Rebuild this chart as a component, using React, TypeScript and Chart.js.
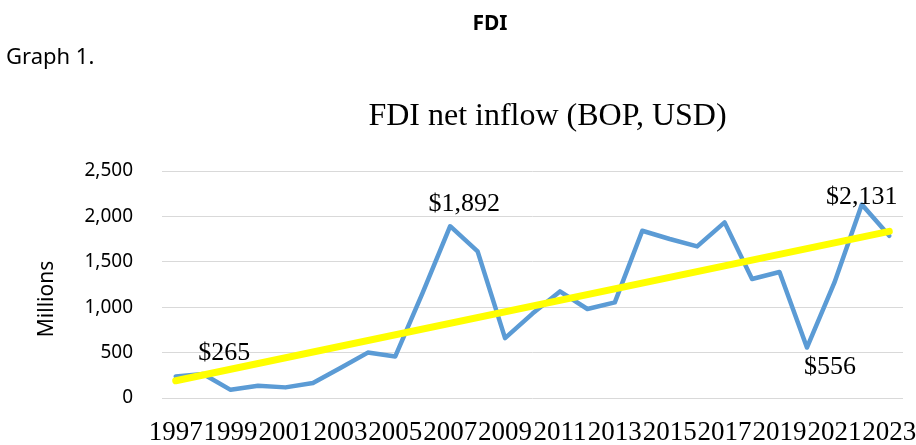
import React, { useEffect, useRef } from "react";
import { Chart, registerables } from "chart.js";

Chart.register(...registerables);

const years: string[] = [
  "1997", "1998", "1999", "2000", "2001", "2002", "2003", "2004", "2005", "2006",
  "2007", "2008", "2009", "2010", "2011", "2012", "2013", "2014", "2015", "2016",
  "2017", "2018", "2019", "2020", "2021", "2022", "2023",
];

// FDI net inflow, millions USD
const fdiValues: number[] = [
  238, 265, 90, 136, 117, 165, 330, 500, 458, 1160,
  1892, 1615, 660, 930, 1174, 980, 1053, 1842, 1751, 1670,
  1934, 1310, 1388, 556, 1270, 2131, 1787,
];

// Linear trend line endpoints
const trendStart = 190;
const trendEnd = 1835;

const yTicks: number[] = [0, 500, 1000, 1500, 2000, 2500];

// Indices of points carrying a data label
const labelledIndices: number[] = [1, 10, 23, 25];

const SERIF = '"Liberation Serif", "Times New Roman", serif';
const SANS = '"Noto Sans", "Open Sans", sans-serif';

export default function App() {
  const canvasRef = useRef<HTMLCanvasElement | null>(null);

  useEffect(() => {
    const canvas = canvasRef.current;
    if (!canvas) return;

    const trendData: (number | null)[] = years.map((_, i) =>
      i === 0 ? trendStart : i === years.length - 1 ? trendEnd : null
    );

    const labelOffsets: Record<number, { dx: number; dy: number }> = {
      1: { dx: 21, dy: -14 },
      10: { dx: 14, dy: -15 },
      23: { dx: 23, dy: 26 },
      25: { dx: 0, dy: -1 },
    };

    const extrasPlugin = {
      id: "extras",
      afterDatasetsDraw(chart: any) {
        const ctx = chart.ctx as CanvasRenderingContext2D;
        const meta = chart.getDatasetMeta(1);
        ctx.save();
        ctx.fillStyle = "#000";
        ctx.font = `26px ${SERIF}`;
        ctx.textAlign = "center";
        ctx.textBaseline = "alphabetic";
        labelledIndices.forEach((idx) => {
          const el = meta.data[idx];
          if (!el) return;
          const off = labelOffsets[idx] || { dx: 0, dy: -14 };
          const text = "$" + fdiValues[idx].toLocaleString("en-US");
          ctx.fillText(text, el.x + off.dx, el.y + off.dy);
        });
        ctx.restore();

        // Y axis title
        ctx.save();
        ctx.translate(47, 299);
        ctx.rotate(-Math.PI / 2);
        ctx.fillStyle = "#000";
        ctx.font = `21px ${SANS}`;
        ctx.textAlign = "center";
        ctx.textBaseline = "middle";
        ctx.fillText("Millions", 0, 0);
        ctx.restore();
      },
    };

    const chart = new Chart(canvas, {
      type: "line",
      data: {
        labels: years,
        datasets: [
          {
            label: "Linear trend",
            data: trendData,
            borderColor: "#FFFF00",
            borderWidth: 7,
            pointRadius: 0,
            spanGaps: true,
            tension: 0,
            borderCapStyle: "round",
            fill: false,
          },
          {
            label: "FDI net inflow",
            data: fdiValues,
            borderColor: "#5B9BD5",
            borderWidth: 4.5,
            pointRadius: 0,
            tension: 0,
            borderJoinStyle: "round",
            borderCapStyle: "round",
            fill: false,
          },
        ],
      },
      options: {
        responsive: false,
        animation: false,
        devicePixelRatio: 1,
        layout: { padding: { top: 171, right: 13, left: 0, bottom: 0 } },
        plugins: {
          legend: { display: false },
          tooltip: { enabled: false },
          title: { display: false },
        },
        scales: {
          x: {
            type: "category",
            offset: true,
            grid: { display: false, drawTicks: false },
            border: { display: false },
            ticks: {
              autoSkip: false,
              maxRotation: 0,
              minRotation: 0,
              padding: 19,
              color: "#000",
              font: { family: SERIF, size: 27 },
              callback: (_v: any, i: number) => (i % 2 === 0 ? years[i] : ""),
            },
            afterFit: (s: any) => {
              s.height = 47;
              s.paddingLeft = 0;
              s.paddingRight = 0;
            },
          },
          y: {
            min: yTicks[0],
            max: yTicks[yTicks.length - 1],
            afterBuildTicks: (s: any) => {
              s.ticks = yTicks.map((v) => ({ value: v }));
            },
            ticks: {
              padding: 29,
              color: "#000",
              font: { family: SANS, size: 19 },
              callback: (v: any) => Number(v).toLocaleString("en-US"),
            },
            grid: { color: "#D9D9D9", lineWidth: 1, drawTicks: false },
            border: { display: false },
            afterFit: (s: any) => {
              s.width = 162;
              s.paddingTop = 0;
              s.paddingBottom = 0;
            },
          },
        },
      },
      plugins: [extrasPlugin],
    } as any);

    return () => chart.destroy();
  }, []);

  return (
    <div
      style={{
        position: "absolute",
        left: 0,
        top: 0,
        width: 916,
        height: 445,
        background: "#fff",
        overflow: "hidden",
      }}
    >
      <canvas
        ref={canvasRef}
        width={916}
        height={445}
        style={{ position: "absolute", left: 0, top: 0, width: 916, height: 445 }}
      />
      <div
        style={{
          position: "absolute",
          left: 490,
          top: 12,
          transform: "translateX(-50%)",
          fontFamily: SANS,
          fontWeight: "bold",
          fontSize: 21,
          lineHeight: "21px",
          whiteSpace: "nowrap",
          color: "#000",
        }}
      >
        FDI
      </div>
      <div
        style={{
          position: "absolute",
          left: 6,
          top: 44,
          fontFamily: SANS,
          fontSize: 22,
          lineHeight: "22px",
          whiteSpace: "nowrap",
          color: "#000",
        }}
      >
        Graph 1.
      </div>
      <div
        style={{
          position: "absolute",
          left: 547.5,
          top: 98,
          transform: "translateX(-50%)",
          fontFamily: SERIF,
          fontSize: 32,
          lineHeight: "32px",
          whiteSpace: "nowrap",
          color: "#000",
        }}
      >
        FDI net inflow (BOP, USD)
      </div>
    </div>
  );
}
